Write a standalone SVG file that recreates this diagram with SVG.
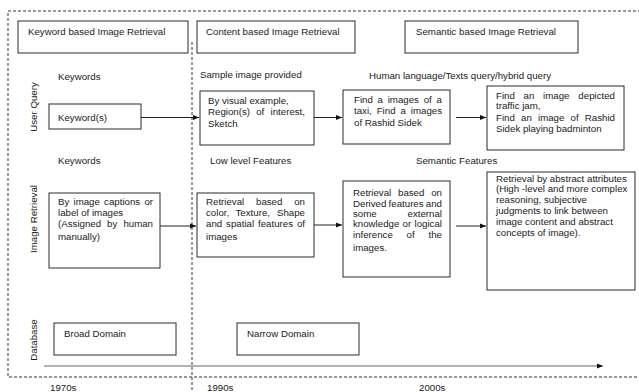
<svg xmlns="http://www.w3.org/2000/svg" width="639" height="392" viewBox="0 0 639 392">
<defs>
<style>
text{font-family:"Liberation Sans",Arial,sans-serif;font-size:9.7px;fill:#1a1a1a}
.box{fill:#fff;stroke:#2a2a2a;stroke-width:1}
.dash{fill:none;stroke:#333;stroke-width:1;stroke-dasharray:3,2}
.conn{fill:none;stroke:#222;stroke-width:1}
.e{text-anchor:end}
.m{text-anchor:middle}
</style>
<marker id="ah" viewBox="0 0 6 6" refX="6" refY="3" markerWidth="6" markerHeight="6" markerUnits="userSpaceOnUse" orient="auto">
<path d="M0,0.5 L6,3 L0,5.5 Z" fill="#111"/>
</marker>
</defs>
<rect width="639" height="392" fill="#fff"/>
<g id="frame">
<path class="dash" d="M641,11 H8 V377 H641"/>
<path class="dash" d="M192,42 V392"/>
</g>
<g id="era-keyword"><rect class="box" x="18" y="21" width="170" height="32"/><text x="28" y="35">Keyword based Image Retrieval</text></g>
<g id="era-content"><rect class="box" x="197" y="21" width="158" height="32"/><text x="206" y="35">Content based Image Retrieval</text></g>
<g id="era-semantic"><rect class="box" x="405" y="21" width="173" height="32"/><text x="416" y="35">Semantic based Image Retrieval</text></g>
<g id="row-labels">
<text transform="translate(37,107) rotate(-90)" class="m">User Query</text>
<text transform="translate(37,219) rotate(-90)" class="m">Image Retrieval</text>
<text transform="translate(37,340) rotate(-90)" class="m">Database</text>
</g>
<g id="col-labels">
<text x="58" y="80">Keywords</text>
<text x="200" y="78">Sample image provided</text>
<text x="369" y="79">Human language/Texts query/hybrid query</text>
<text x="58" y="164">Keywords</text>
<text x="210" y="164">Low level Features</text>
<text x="416" y="164">Semantic Features</text>
</g>
<g id="q1"><rect class="box" x="49" y="104" width="92" height="25"/><text x="58" y="121">Keyword(s)</text></g>
<g id="q2"><rect class="box" x="200" y="91" width="114" height="54"/>
<text x="208" y="104">By visual example,</text>
<text y="115"><tspan x="208">Region(s)</tspan><tspan x="256.2">of</tspan></text><text class="e" x="305" y="115">interest,</text>
<text x="208" y="127">Sketch</text></g>
<g id="q3"><rect class="box" x="343" y="90" width="107" height="54"/>
<text y="103"><tspan x="354">Find</tspan><tspan x="377.6">a</tspan><tspan x="387.7">images</tspan><tspan x="423.7">of</tspan></text><text class="e" x="442" y="103">a</text>
<text y="114"><tspan x="354">taxi,</tspan><tspan x="376.7">Find</tspan><tspan x="400.5">a</tspan></text><text class="e" x="442" y="114">images</text>
<text x="354" y="126">of Rashid Sidek</text></g>
<g id="q4"><rect class="box" x="487" y="86" width="137" height="64"/>
<text y="99"><tspan x="496">Find</tspan><tspan x="523.6">an</tspan><tspan x="543.1">image</tspan></text><text class="e" x="615" y="99">depicted</text>
<text x="496" y="109">traffic jam,</text>
<text y="121"><tspan x="496">Find</tspan><tspan x="521">an</tspan><tspan x="538">image</tspan><tspan x="570.5">of</tspan></text><text class="e" x="615" y="121">Rashid</text>
<text x="496" y="132">Sidek playing badminton</text></g>
<g id="r1"><rect class="box" x="49" y="193" width="111" height="75"/>
<text y="205"><tspan x="58">By</tspan><tspan x="73.5">image</tspan><tspan x="104.1">captions</tspan></text><text class="e" x="153" y="205">or</text>
<text x="58" y="216">label of images</text>
<text y="227"><tspan x="58">(Assigned</tspan><tspan x="107.1">by</tspan></text><text class="e" x="153" y="227">human</text>
<text x="58" y="240">manually)</text></g>
<g id="r2"><rect class="box" x="197" y="193" width="117" height="64"/>
<text y="205"><tspan x="206">Retrieval</tspan><tspan x="256">based</tspan></text><text class="e" x="305" y="205">on</text>
<text y="216"><tspan x="206">color,</tspan><tspan x="235.5">Texture,</tspan></text><text class="e" x="305" y="216">Shape</text>
<text y="227"><tspan x="206">and</tspan><tspan x="226.1">spatial</tspan><tspan x="258">features</tspan></text><text class="e" x="305" y="227">of</text>
<text x="206" y="240">images</text></g>
<g id="r3"><rect class="box" x="343" y="181" width="107" height="96"/>
<text y="196"><tspan x="353">Retrieval</tspan><tspan x="398">based</tspan></text><text class="e" x="442" y="196">on</text>
<text y="207"><tspan x="353">Derived</tspan><tspan x="388.6">features</tspan></text><text class="e" x="442" y="207">and</text>
<text x="353" y="217">some</text><text class="e" x="442" y="217">external</text>
<text y="227"><tspan x="353">knowledge</tspan><tspan x="402.6">or</tspan></text><text class="e" x="442" y="227">logical</text>
<text y="238"><tspan x="353">inference</tspan><tspan x="406.6">of</tspan></text><text class="e" x="442" y="238">the</text>
<text x="353" y="251">images.</text></g>
<g id="r4"><rect class="box" x="487" y="172" width="148" height="118"/>
<text x="496" y="182">Retrieval by abstract attributes</text>
<text x="496" y="192">(High -level and more complex</text>
<text x="496" y="203">reasoning, subjective</text>
<text x="496" y="214">judgments to link between</text>
<text x="496" y="225">image content and abstract</text>
<text x="496" y="236">concepts of image).</text></g>
<g id="d1"><rect class="box" x="54" y="323" width="122" height="32"/><text x="64" y="337">Broad Domain</text></g>
<g id="d2"><rect class="box" x="237" y="323" width="122" height="32"/><text x="247" y="337">Narrow Domain</text></g>
<g id="connectors">
<path class="conn" d="M141,117.5 H199" marker-end="url(#ah)"/>
<path class="conn" d="M314,117.5 H342" marker-end="url(#ah)"/>
<path class="conn" d="M456,117.5 H486" marker-end="url(#ah)"/>
<path class="conn" d="M160,226 H196" marker-end="url(#ah)"/>
<path class="conn" d="M314,225 H342" marker-end="url(#ah)"/>
<path class="conn" d="M456,226 H486" marker-end="url(#ah)"/>
<path d="M44,366 H603" fill="none" stroke="#666" stroke-width="1.2" marker-end="url(#ah)"/>
</g>
<g id="timeline-labels">
<text x="50" y="390.5">1970s</text>
<text x="207" y="390.5">1990s</text>
<text x="419" y="390.5">2000s</text>
</g>
</svg>
